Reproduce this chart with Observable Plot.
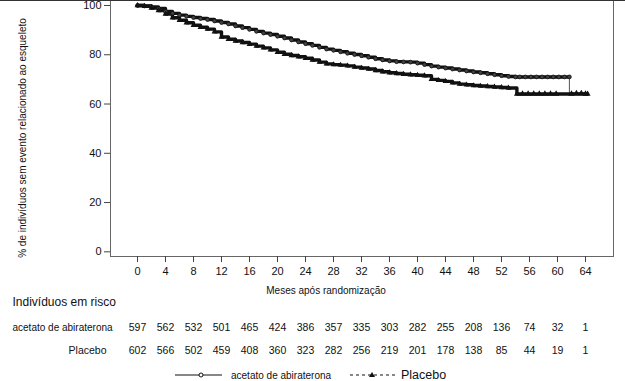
<!DOCTYPE html>
<html><head><meta charset="utf-8">
<script src="https://cdn.jsdelivr.net/npm/d3@7"></script>
<script src="https://cdn.jsdelivr.net/npm/@observablehq/plot@0.6"></script>
<style>
body{margin:0;background:#fff;font-family:"Liberation Sans",Arial,sans-serif;color:#111;}
#wrap{position:relative;width:625px;height:381px;overflow:hidden;}
#topline{position:absolute;left:0;top:0;width:625px;height:1px;background:#333;}
#legend{position:absolute;left:0;top:366px;}
</style></head><body>
<div id="wrap"><div id="chart"></div><div id="topline"></div>
<svg id="legend" width="625" height="18" font-family="Liberation Sans, Arial, sans-serif">
  <line x1="175" x2="222" y1="9" y2="9" stroke="#111" stroke-width="1"/>
  <circle cx="201" cy="9" r="2" fill="#fff" stroke="#111" stroke-width="1"/>
  <text x="231" y="9" dy="0.35em" font-size="10" fill="#111">acetato de abiraterona</text>
  <line x1="350" x2="397" y1="9" y2="9" stroke="#111" stroke-width="1" stroke-dasharray="3,3"/>
  <path d="M372,6 L375,11 L369,11 Z" fill="#111"/>
  <text x="401" y="9" dy="0.35em" font-size="12.5" fill="#111">Placebo</text>
</svg>
</div>
<script>
// Kaplan-Meier estimates (months, % without event)
const abiMonths = [0,1,2,3,4,5,6,7,8,9,10,11,12,13,14,15,16,17,18,19,20,21,22,23,24,25,26,27,28,29,30,31,32,33,34,35,36,37,38,39,40,41,42,43,44,45,46,47,48,49,50,51,52,53,54,61.7,61.7,64.3];
const abiSurv   = [100,99.8,99.4,98.8,97.6,96.8,96.1,95.6,95.1,94.7,94.3,93.7,93.1,92.5,91.7,91.0,90.3,89.5,88.8,88.2,87.5,86.8,86.0,85.2,84.5,83.8,83.0,82.3,81.8,81.2,80.6,80.1,79.6,79.0,78.4,77.9,77.5,77.2,77.1,77.0,76.6,76.0,75.4,75.0,74.6,74.2,73.8,73.4,73.0,72.7,72.3,71.9,71.5,71.2,71.0,71.0,64.5,64.5];
const plaMonths = [0,1,2,3,4,5,6,7,8,9,10,11,12,13,14,15,16,17,18,19,20,21,22,23,24,25,26,27,28,29,30,31,32,33,34,35,36,37,38,39,40,41,42,43,44,45,46,47,48,49,50,51,52,53,54.2,64.3];
const plaSurv   = [100,99.7,99.0,98.0,96.5,95.0,94.0,93.0,92.0,91.2,90.4,89.3,87.2,86.3,85.6,85.0,84.3,83.5,82.8,82.0,81.0,80.2,79.7,79.2,78.6,77.9,77.0,76.3,76.0,75.8,75.5,75.0,74.6,74.2,73.6,73.1,72.7,72.4,72.1,71.9,71.7,71.5,70.0,69.6,69.2,68.6,68.1,67.8,67.5,67.3,67.1,66.9,66.7,66.5,64.1,64.1];
// late censoring marks seen on the flat tails
const abiCensorMonths = [54.6,55.4,56.2,57.0,57.8,58.6,59.4,60.2,61.0];
const abiCensorSurv   = [71.0,71.0,71.0,71.0,71.0,71.0,71.0,71.0,71.0];
const plaCensorMonths = [55.0,55.8,56.6,57.4,58.2,59.0,59.8,62.0,62.7,63.4,64.0];
const plaCensorSurv   = [64.1,64.1,64.1,64.1,64.1,64.1,64.1,64.1,64.3,64.3,64.1];

const xTicks = [0,4,8,12,16,20,24,28,32,36,40,44,48,52,56,60,64];
const yTicks = [0,20,40,60,80,100];
const riskAbi = [597,562,532,501,465,424,386,357,335,303,282,255,208,136,74,32,1];
const riskPla = [602,566,502,459,408,360,323,282,256,219,201,178,138,85,44,19,1];

const abi = abiMonths.map((t,i)=>({t, s: abiSurv[i]}));
const pla = plaMonths.map((t,i)=>({t, s: plaSurv[i]}));
const abiC = abiCensorMonths.map((t,i)=>({t, s: abiCensorSurv[i]}));
const plaC = plaCensorMonths.map((t,i)=>({t, s: plaCensorSurv[i]}));

const fontFam = "Liberation Sans, Arial, sans-serif";
const chart = Plot.plot({
  width: 625, height: 381,
  marginLeft: 110, marginRight: 12, marginTop: 0, marginBottom: 125,
  style: {fontFamily: fontFam, color: "#111", background: "transparent"},
  x: {domain: [-27/7, 68]},
  y: {domain: [-1.9, 102.03]},
  marks: [
    Plot.frame({stroke: "#666"}),
    Plot.axisY({ticks: yTicks, tickSize: 6, tickPadding: 3, fontSize: 11, label: null, stroke: "#444"}),
    Plot.axisX({ticks: xTicks, tickSize: 6, tickPadding: 5, fontSize: 11, label: null, stroke: "#444"}),
    // thin step lines
    Plot.line(abi, {x: "t", y: "s", curve: "step-after", stroke: "#555", strokeWidth: 1}),
    Plot.line(pla, {x: "t", y: "s", curve: "step-after", stroke: "#111", strokeWidth: 1, strokeDasharray: "3,3"}),
    // dense censoring marks give the curves a heavy look
    Plot.line(abi, {filter: d => d.s > 65, x: "t", y: "s", curve: "step-after", stroke: "#111", strokeWidth: 3.4}),
    Plot.line(pla, {x: "t", y: "s", curve: "step-after", stroke: "#111", strokeWidth: 3.4}),
    Plot.dot(abi, {filter: d => d.s > 65, x: "t", y: "s", r: 1.9, fill: "#444", stroke: "#111", strokeWidth: 0.8}),
    Plot.dot(abiC, {x: "t", y: "s", r: 1.9, fill: "#444", stroke: "#111", strokeWidth: 0.8}),
    Plot.dot(pla, {x: "t", y: "s", symbol: "triangle", r: 2.2, fill: "#111"}),
    Plot.dot(plaC, {x: "t", y: "s", symbol: "triangle", r: 2.4, fill: "#111"}),
    // axis titles
    Plot.text(["% de indivíduos sem evento relacionado ao esqueleto"], {frameAnchor: "left", textAnchor: "middle", dx: -88, dy: 9.5, rotate: -90, fontSize: 10, fill: "#111"}),
    Plot.text(["Meses após randomização"], {frameAnchor: "bottom", textAnchor: "middle", dx: -36, dy: 37, fontSize: 10, fill: "#111"}),
    // number-at-risk table
    Plot.text(["Indivíduos em risco"], {frameAnchor: "bottom-left", dx: -98, dy: 49, textAnchor: "start", fontSize: 12, fill: "#111"}),
    Plot.text(["acetato de abiraterona"], {frameAnchor: "bottom-left", dx: -98, dy: 74, textAnchor: "start", fontSize: 10, fill: "#111"}),
    Plot.text(["Placebo"], {frameAnchor: "bottom-left", dx: -4, dy: 97, textAnchor: "end", fontSize: 10.5, fill: "#111"}),
    Plot.text(xTicks, {x: d => d, text: (d, i) => riskAbi[i], frameAnchor: "bottom", dy: 74, fontSize: 10.5, fill: "#111"}),
    Plot.text(xTicks, {x: d => d, text: (d, i) => riskPla[i], frameAnchor: "bottom", dy: 97, fontSize: 10.5, fill: "#111"})
  ]
});
document.getElementById("chart").appendChild(chart);
</script>
</body></html>
